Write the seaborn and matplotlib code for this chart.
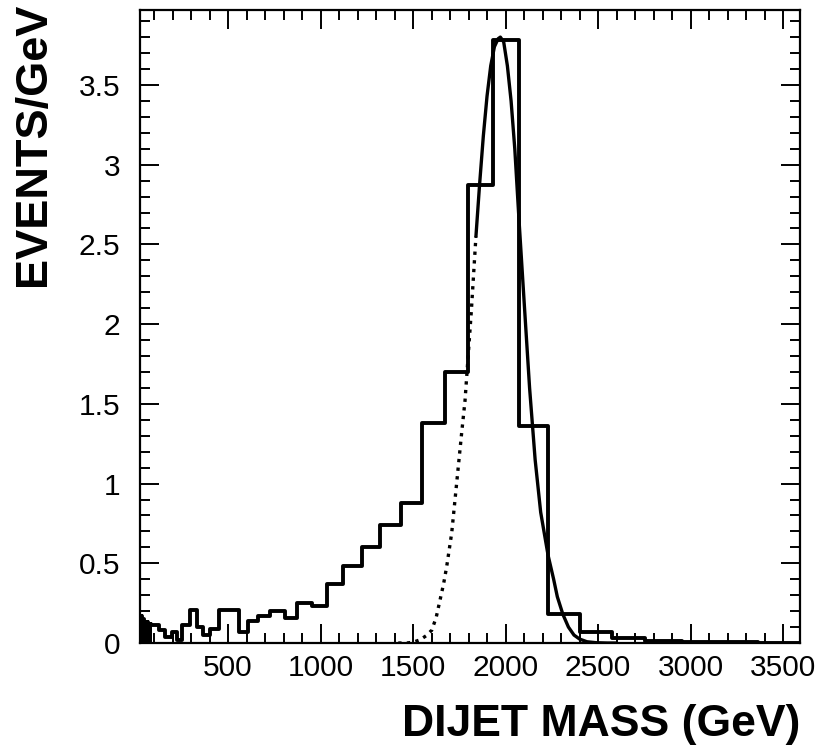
import numpy as np
import pandas as pd
import matplotlib
matplotlib.use("Agg")
import matplotlib.pyplot as plt
from matplotlib.ticker import MultipleLocator, FormatStrFormatter
import seaborn as sns

# ---- data ----
bin_edges = [24, 28, 32, 36, 40, 44, 48, 52, 56, 60, 64, 68, 72, 76, 80, 84,
             95, 105, 127, 159, 197, 224, 251,
             295, 332, 365, 403, 451, 559, 608, 662, 727, 808, 873, 954, 1035,
             1122, 1224, 1322, 1435, 1549, 1673, 1797, 1932, 2073, 2230, 2403,
             2576, 2754, 2954, 3365, 3592]
events_per_gev = [0.17, 0.0, 0.17, 0.0, 0.15, 0.0, 0.13, 0.0, 0.13, 0.0,
                  0.13, 0.0, 0.12, 0.0, 0.12,
                  0.11, 0.11,
                  0.11, 0.08, 0.04, 0.07, 0.02, 0.11, 0.21, 0.10, 0.05, 0.09,
                  0.21, 0.07, 0.14, 0.17, 0.20, 0.16, 0.25, 0.23, 0.37, 0.48,
                  0.60, 0.74, 0.88, 1.38, 1.70, 2.87, 3.78, 1.36, 0.18, 0.07,
                  0.03, 0.012, 0.004, 0.0]

# fit curve outside the fit range (dotted)
fit_out_mass = [1420, 1466, 1500, 1538, 1570, 1601, 1625, 1646, 1665, 1682, 1709,
                1727, 1745, 1763, 1781, 1790, 1815, 1840]
fit_out_val = [0.0, 0.0, 0.005, 0.02, 0.045, 0.08, 0.16, 0.27, 0.37, 0.48, 0.69,
               0.90, 1.11, 1.32, 1.52, 1.67, 2.08, 2.55]
# fit curve inside the fit range (solid)
fit_in_mass = [1840, 1860, 1880, 1900, 1920, 1940, 1960, 1972, 1990, 2010, 2030,
               2050, 2073, 2100, 2130, 2160, 2190, 2230, 2260, 2280, 2310, 2340,
               2370, 2400, 2440, 2490, 2550, 2600]
fit_in_val = [2.55, 2.88, 3.18, 3.43, 3.62, 3.74, 3.79, 3.80, 3.77, 3.62, 3.40,
              3.10, 2.65, 2.15, 1.60, 1.15, 0.82, 0.55, 0.40, 0.29, 0.18, 0.10,
              0.05, 0.025, 0.008, 0.002, 0.0, 0.0]

x_ticks = [500, 1000, 1500, 2000, 2500, 3000, 3500]
x_label = "DIJET MASS (GeV)"
y_label = "EVENTS/GeV"

# ---- figure ----
sns.set_style("ticks")
plt.rcParams["font.family"] = ["Liberation Sans", "DejaVu Sans"]
for key in ["text.color", "axes.labelcolor", "xtick.color", "ytick.color",
            "axes.edgecolor"]:
    plt.rcParams[key] = "black"

fig = plt.figure(figsize=(8.23, 7.47), dpi=100)
ax = fig.add_axes([0.1701, 0.1392, 0.802, 0.8474])

# histogram outline: steps-post through the bin edges
step_df = pd.DataFrame({
    "mass": bin_edges,
    "val": events_per_gev + [events_per_gev[-1]],
})
sns.lineplot(data=step_df, x="mass", y="val", drawstyle="steps-post",
             color="black", linewidth=2.8, estimator=None, ax=ax)

sns.lineplot(x=fit_out_mass, y=fit_out_val, ax=ax, color="black", linewidth=2.4,
             linestyle=(0, (1, 1.6)), estimator=None)
sns.lineplot(x=fit_in_mass, y=fit_in_val, ax=ax, color="black", linewidth=2.4,
             estimator=None)

ax.set_xlim(24, 3592)
ax.set_ylim(0, 3.97)

ax.set_xticks(x_ticks)
ax.xaxis.set_minor_locator(MultipleLocator(100))
ax.yaxis.set_major_locator(MultipleLocator(0.5))
ax.yaxis.set_minor_locator(MultipleLocator(0.1))
ax.yaxis.set_major_formatter(FormatStrFormatter("%g"))

ax.tick_params(which="both", direction="in", top=True, right=True,
               color="black", labelcolor="black", width=1.4, labelsize=21.5)
ax.tick_params(which="major", length=13.5)
ax.tick_params(which="minor", length=7)
ax.tick_params(axis="x", which="major", pad=8)
ax.tick_params(axis="y", which="major", pad=14)

for s in ax.spines.values():
    s.set_linewidth(1.6)
    s.set_color("black")
    s.set_visible(True)

ax.set_xlabel(x_label, fontsize=32, fontweight="bold", loc="right", color="black")
ax.set_ylabel(y_label, fontsize=32.5, fontweight="bold", loc="top", color="black")
ax.xaxis.set_label_coords(1.0, -0.097)
ax.yaxis.set_label_coords(-0.131, 1.012)

fig.savefig("out.png", dpi=100)
